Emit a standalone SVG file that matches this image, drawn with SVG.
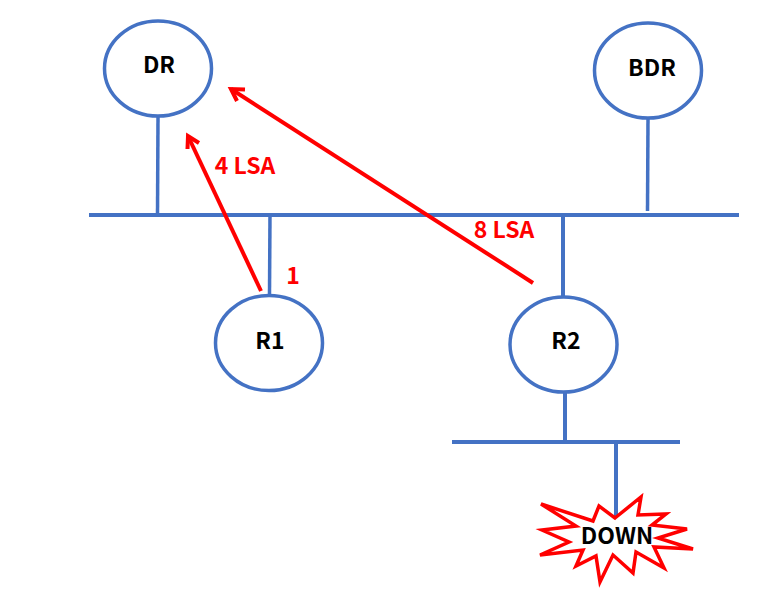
<svg xmlns="http://www.w3.org/2000/svg" width="777" height="598" viewBox="0 0 777 598">
<style>
.bus{stroke:#4472c4;stroke-width:4;fill:none}
.drop{stroke:#4472c4;stroke-width:3.500;fill:none}
.node{stroke:#4472c4;stroke-width:3.500;fill:#fff}
.lsa{stroke:#ff0000;stroke-width:4;fill:none}
.head{stroke:#ff0000;stroke-width:4;fill:none}
text{font-family:"Noto Sans CJK SC","Noto Sans",sans-serif;font-weight:700;font-size:23px;text-anchor:middle}
.k{fill:#000}
.r{fill:#ff0000}
</style>
<rect width="777" height="598" fill="#fff"/>
<g id="connectors">
<path class="bus" d="M89 215H739"/>
<path class="bus" d="M452 442H680"/>
<path class="drop" d="M158 117L157.500 214"/>
<path class="drop" d="M648 118L647.500 211"/>
<path class="drop" d="M270 214L269.500 295"/>
<path class="bus" d="M563 214V297"/>
<path class="bus" d="M565 392V441"/>
<path class="bus" d="M616 441V516"/>
<path class="lsa" d="M261 291L188 136"/>
<path class="head" d="M187.500 149L188 136L199 143"/>
<path class="lsa" d="M533 283L231 89"/>
<path class="head" d="M245 89.500L231 89L237 101"/>
</g>
<g id="node-dr"><ellipse class="node" cx="158" cy="68.500" rx="53.500" ry="47.500"/><text class="k" x="159" y="73">DR</text></g>
<g id="node-bdr"><ellipse class="node" cx="648" cy="70.500" rx="53.500" ry="47.500"/><text class="k" x="652" y="76">BDR</text></g>
<g id="node-r1"><ellipse class="node" cx="269" cy="343" rx="53.500" ry="47.500"/><text class="k" x="270" y="349">R1</text></g>
<g id="node-r2"><ellipse class="node" cx="563.500" cy="344.500" rx="53.500" ry="47.500"/><text class="k" x="566" y="349">R2</text></g>
<g id="node-down"><polygon points="615,518 641,497 638,515 666,514 652,525 687,529 658,538 693,549 654,547 664,568 636,552 633,573 613,555 600,582 596,556 576,566 583,550 540,555 569,542 542,530 576,526 541,504 593,521 599,506" fill="#fff" stroke="#ff0000" stroke-width="3.500"/><text class="k" x="617" y="544">DOWN</text></g>
<g id="labels">
<text class="r" x="245" y="174">4 LSA</text>
<text class="r" x="504" y="238">8 LSA</text>
<text class="r" x="293" y="284">1</text>
</g>
</svg>
